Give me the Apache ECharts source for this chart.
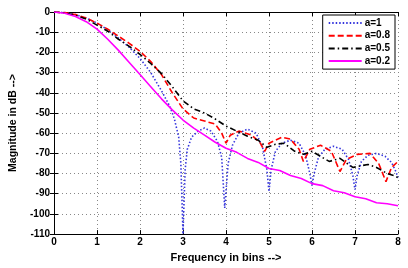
<!DOCTYPE html>
<html>
<head>
<meta charset="utf-8">
<script src="https://cdn.jsdelivr.net/npm/echarts@6/dist/echarts.min.js"></script>
<style>
  html, body { margin: 0; padding: 0; background: #fff; }
  #chart { width: 408px; height: 268px; }
</style>
</head>
<body>
<div id="chart"></div>
<script>
// a=1 (blue dotted)
var blueX = [0, 0.25, 0.5, 0.75, 1, 1.25, 1.5, 1.75, 2, 2.25, 2.5, 2.7, 2.8, 2.9, 2.95, 3.0, 3.05, 3.1, 3.2, 3.35, 3.5, 3.65, 3.8, 3.9, 3.97, 4.05, 4.15, 4.3, 4.5, 4.7, 4.85, 4.95, 5.0, 5.05, 5.15, 5.3, 5.5, 5.7, 5.85, 5.95, 6.0, 6.05, 6.15, 6.3, 6.5, 6.7, 6.85, 6.95, 7.0, 7.05, 7.15, 7.3, 7.5, 7.7, 7.85, 7.95, 8];
var blueY = [0, -0.3, -1.3, -3, -5.5, -8.8, -13, -17.5, -23, -30, -39, -47, -53, -62, -75, -110, -78, -68, -62, -59, -57.5, -59, -64, -72, -97, -75, -66, -60, -58, -60, -67, -78, -89, -78, -69, -65, -63.5, -65, -71, -80, -86, -80, -72, -68, -66.5, -68, -73, -81, -88, -81, -74, -71, -70, -71.5, -74.5, -79, -82];

// a=0.8 (red dashed)
var redX = [0, 0.25, 0.5, 0.75, 1, 1.25, 1.5, 1.75, 2, 2.25, 2.5, 2.75, 3, 3.25, 3.5, 3.75, 3.9, 4.0, 4.1, 4.3, 4.6, 4.8, 4.9, 5.0, 5.3, 5.5, 5.7, 5.8, 5.95, 6.2, 6.45, 6.65, 6.8, 7.05, 7.35, 7.55, 7.72, 7.85, 8];
var redY = [0, -0.3, -1.3, -3, -5.5, -8.5, -12, -15.5, -19.5, -24.5, -31, -40, -48, -52.5, -54, -55.5, -60, -65, -61, -59, -61, -65, -69, -65, -62, -63, -68, -74, -68, -66, -69, -79, -73, -70.5, -70, -75, -84, -77, -74];

// a=0.5 (black dash-dot)
var blackX = [0, 0.25, 0.5, 0.75, 1, 1.25, 1.5, 1.75, 2, 2.25, 2.5, 2.75, 3, 3.25, 3.5, 3.75, 4, 4.25, 4.5, 4.75, 4.95, 5.15, 5.35, 5.6, 5.8, 6.0, 6.2, 6.4, 6.65, 6.95, 7.3, 7.5, 7.75, 7.9, 8];
var blackY = [0, -0.4, -1.6, -3.5, -6.5, -9.5, -13.5, -17, -21, -25.5, -30.5, -37, -44, -48, -50, -53, -56.5, -59, -61.5, -63.5, -67, -65.5, -65, -69, -70.5, -69, -71.5, -74, -72.5, -77, -75.5, -77, -80, -81, -82];

// a=0.2 (magenta solid)
var magX = [0, 0.25, 0.5, 0.75, 1, 1.25, 1.5, 1.75, 2, 2.25, 2.5, 2.75, 3, 3.25, 3.5, 3.75, 4, 4.25, 4.5, 4.75, 5, 5.25, 5.5, 5.75, 6, 6.25, 6.5, 6.75, 7, 7.25, 7.5, 7.75, 8];
var magY = [0, -0.6, -2.2, -4.8, -8.5, -13.5, -19, -25, -31, -37, -43, -48.5, -53.5, -57.5, -61, -64.5, -67.5, -69.5, -72.5, -74.5, -77.5, -78.5, -81, -82.5, -85, -86, -88.5, -89.5, -91.5, -92.5, -94.5, -95, -96];

var seriesNames = ['a=1', 'a=0.8', 'a=0.5', 'a=0.2'];

function zip(xs, ys) {
    var out = [];
    for (var i = 0; i < xs.length; i++) out.push([xs[i], ys[i]]);
    return out;
}

var font = 'Liberation Sans';
var chart = echarts.init(document.getElementById('chart'));

var baseAxis = {
    axisLine: { onZero: false, lineStyle: { color: '#000', width: 1 } },
    axisTick: { inside: true, length: 4, lineStyle: { color: '#000' } },
    axisLabel: { color: '#000', fontFamily: font, fontWeight: 'bold', fontSize: 10 },
    splitLine: { show: true, lineStyle: { color: '#888', type: [1, 3], width: 1 } }
};

var option = {
    animation: false,
    backgroundColor: '#fff',
    grid: { left: 44, right: 10, top: 12, bottom: 26 },
    legend: {
        data: seriesNames,
        orient: 'vertical',
        right: 13,
        top: 15,
        itemWidth: 33,
        itemHeight: 8,
        itemGap: 2.7,
        padding: [3, 5, 3, 5],
        borderColor: '#000',
        borderWidth: 1,
        backgroundColor: '#fff',
        itemStyle: { opacity: 0 },
        textStyle: { color: '#000', fontFamily: font, fontWeight: 'bold', fontSize: 10, padding: [0, 0, 0, -2] }
    },
    xAxis: [
        Object.assign({}, baseAxis, {
            type: 'value', min: 0, max: 8, interval: 1,
            name: 'Frequency in bins -->', nameLocation: 'middle', nameGap: 13,
            nameTextStyle: { color: '#000', fontFamily: font, fontWeight: 'bold', fontSize: 11 },
            axisLabel: Object.assign({}, baseAxis.axisLabel, { margin: 3 })
        }),
        {
            type: 'value', min: 0, max: 8, interval: 1, position: 'top',
            axisLine: { lineStyle: { color: '#000' } },
            axisTick: { inside: true, length: 4, lineStyle: { color: '#000' } },
            axisLabel: { show: false }, splitLine: { show: false }
        }
    ],
    yAxis: [
        Object.assign({}, baseAxis, {
            type: 'value', min: -110, max: 0, interval: 10,
            name: 'Magnitude in dB -->', nameLocation: 'middle', nameGap: 35,
            nameTextStyle: { color: '#000', fontFamily: font, fontWeight: 'bold', fontSize: 10.5 },
            axisLabel: Object.assign({}, baseAxis.axisLabel, { margin: 4 })
        }),
        {
            type: 'value', min: -110, max: 0, interval: 10, position: 'right',
            axisLine: { show: true, lineStyle: { color: '#000' } },
            axisTick: { show: true, inside: true, length: 4, lineStyle: { color: '#000' } },
            axisLabel: { show: false }, splitLine: { show: false }
        }
    ],
    series: [
        {
            name: 'a=1', type: 'line', symbol: 'none', data: zip(blueX, blueY),
            itemStyle: { color: '#3535dd' },
            lineStyle: { color: '#3535dd', width: 1.6, type: [1.5, 2] }
        },
        {
            name: 'a=0.8', type: 'line', symbol: 'none', data: zip(redX, redY),
            itemStyle: { color: '#ff0000' },
            lineStyle: { color: '#ff0000', width: 1.6, type: [6, 3] }
        },
        {
            name: 'a=0.5', type: 'line', symbol: 'none', data: zip(blackX, blackY),
            itemStyle: { color: '#000' },
            lineStyle: { color: '#000', width: 1.6, type: [6, 3, 1.5, 3] }
        },
        {
            name: 'a=0.2', type: 'line', symbol: 'none', data: zip(magX, magY),
            itemStyle: { color: '#ff00ff' },
            lineStyle: { color: '#ff00ff', width: 1.6 }
        }
    ]
};

chart.setOption(option);
</script>
</body>
</html>
